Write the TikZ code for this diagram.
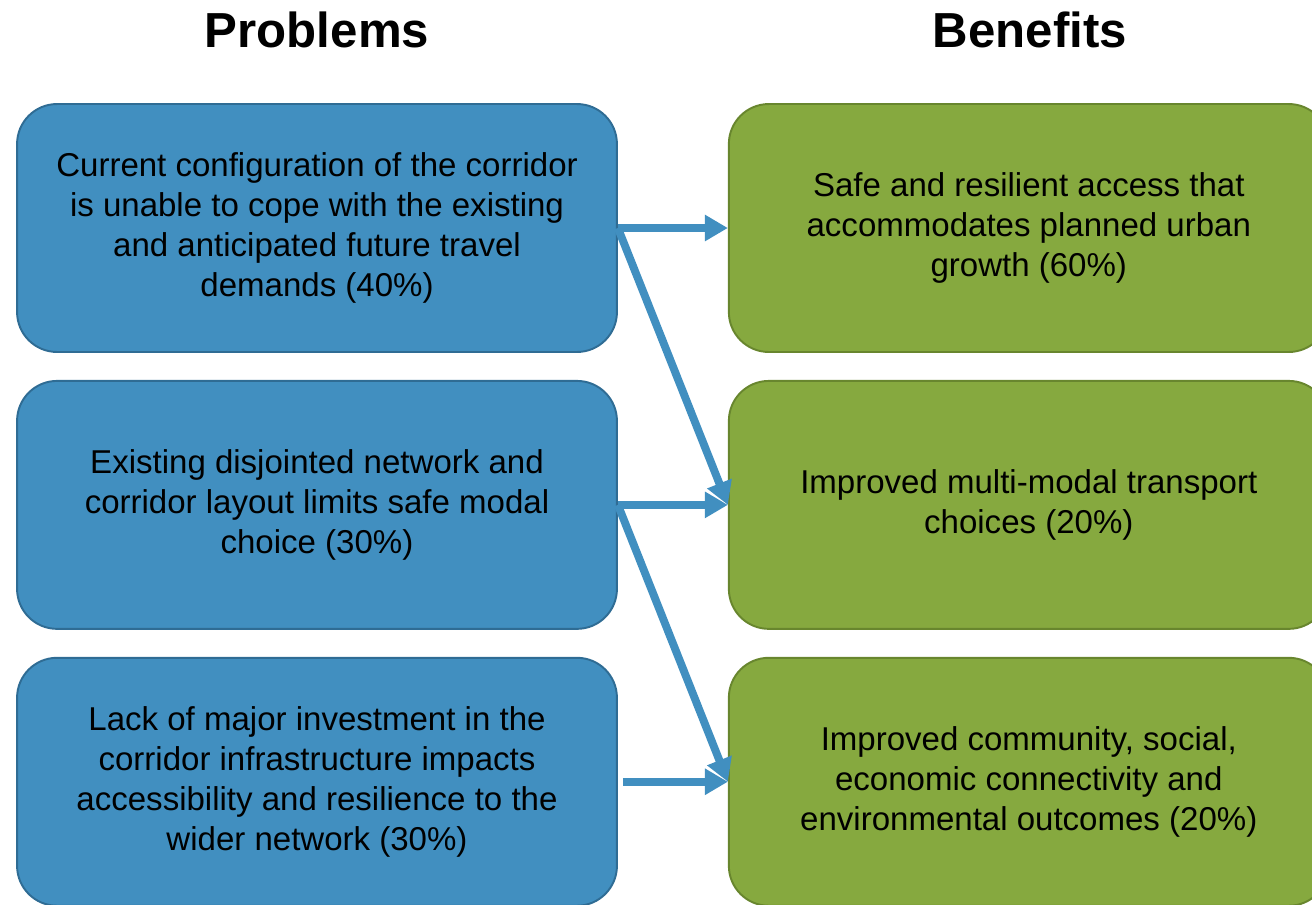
\documentclass[tikz,border=0pt]{standalone}
\usepackage{fontspec}
\setmainfont{Liberation Sans}
\usetikzlibrary{positioning,arrows.meta}

\definecolor{probfill}{RGB}{65,143,192}
\definecolor{probline}{RGB}{47,108,148}
\definecolor{benfill}{RGB}{134,169,63}
\definecolor{benline}{RGB}{104,134,46}

\begin{document}
\begin{tikzpicture}[x=0.02cm, y=0.02cm,
    problem/.style = {draw=probline, fill=probfill, line width=1.1pt, rounded corners=0.8cm,
        minimum width=12cm, minimum height=4.96cm, align=center,
        font=\fontsize{18.8}{22.7}\selectfont},
    benefit/.style = {problem, draw=benline, fill=benfill},
    heading/.style = {font=\fontsize{28}{34}\selectfont\bfseries},
    link/.style = {probfill, line width=4.5pt, -{Triangle[length=0.46cm, width=0.5cm]}},
    node distance={0.54cm}]
    \useasboundingbox (0,0) rectangle (1312,-904);

    \node[heading] (prob) at (317,-30) {Problems};
    \node[heading] (ben) at (1030,-30) {Benefits};

    % left column
    \node[problem] (p1) at (317,-228) {Current configuration of the corridor\\is unable to cope with the existing\\and anticipated future travel\\demands (40\%)};
    \node[problem] (p2) [below=of p1] {Existing disjointed network and\\corridor layout limits safe modal\\choice (30\%)};
    \node[problem] (p3) [below=of p2] {Lack of major investment in the\\corridor infrastructure impacts\\accessibility and resilience to the\\wider network (30\%)};

    % right column
    \node[benefit] (b1) [right=2.2cm of p1] {Safe and resilient access that\\accommodates planned urban\\growth (60\%)};
    \node[benefit] (b2) [right=2.2cm of p2] {Improved multi-modal transport\\choices (20\%)};
    \node[benefit] (b3) [right=2.2cm of p3] {Improved community, social,\\economic connectivity and\\environmental outcomes (20\%)};

    \draw[link] (p1.east) -- (b1.west);
    \draw[link] (p1.east) -- (b2.west);
    \draw[link] (p2.east) -- (b2.west);
    \draw[link] (p2.east) -- (b3.west);
    \draw[link] ([xshift=0.1cm]p3.east) -- (b3.west);
\end{tikzpicture}
\end{document}
